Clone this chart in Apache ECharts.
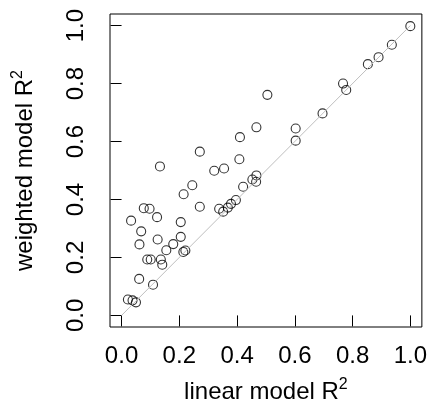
<!DOCTYPE html>
<html>
<head>
<meta charset="utf-8">
<script src="https://cdn.jsdelivr.net/npm/echarts@6/dist/echarts.min.js"></script>
<style>
  html, body { margin: 0; padding: 0; background: #fff; }
  #main { width: 430px; height: 412px; }
</style>
</head>
<body>
<div id="main"></div>
<script>
// R^2 of linear model (x) vs weighted model (y)
var linearR2 = [1.000, 0.936, 0.890, 0.853, 0.767, 0.778, 0.505, 0.696, 0.467, 0.603,
  0.410, 0.603, 0.271, 0.408, 0.133, 0.355, 0.321, 0.467, 0.453, 0.466,
  0.245, 0.421, 0.215, 0.396, 0.379, 0.368, 0.352, 0.338, 0.077, 0.097,
  0.271, 0.033, 0.123, 0.205, 0.068, 0.205, 0.125, 0.179, 0.062, 0.155,
  0.214, 0.221, 0.089, 0.101, 0.136, 0.141, 0.061, 0.109, 0.022, 0.038, 0.050];
var weightedR2 = [0.998, 0.934, 0.891, 0.867, 0.800, 0.778, 0.761, 0.697, 0.649, 0.645,
  0.615, 0.603, 0.565, 0.539, 0.514, 0.507, 0.499, 0.483, 0.469, 0.461,
  0.449, 0.444, 0.418, 0.398, 0.385, 0.372, 0.358, 0.368, 0.370, 0.368,
  0.375, 0.327, 0.339, 0.322, 0.290, 0.271, 0.262, 0.246, 0.245, 0.225,
  0.219, 0.224, 0.193, 0.193, 0.193, 0.175, 0.126, 0.106, 0.055, 0.052, 0.045];
var tickValues = [0, 0.2, 0.4, 0.6, 0.8, 1.0];
var refLine = [[0, 0], [1, 1]];

var points = [];
for (var i = 0; i < linearR2.length; i++) {
  points.push([linearR2[i], weightedR2[i]]);
}

var font = '"Liberation Sans", Arial, sans-serif';

var chart = echarts.init(document.getElementById('main'));

var option = {
  animation: false,
  textStyle: { fontFamily: font },
  grid: {
    left: 110, right: 7, top: 14, bottom: 85,
    show: true, borderColor: '#000', borderWidth: 1
  },
  xAxis: {
    type: 'value', min: -0.04, max: 1.04,
    name: '{a|linear model R}{b|2}',
    nameLocation: 'middle', nameGap: 50,
    nameTextStyle: {
      rich: {
        a: { fontSize: 24, fontFamily: font, color: '#000', lineHeight: 30 },
        b: { fontSize: 16, fontFamily: font, color: '#000', verticalAlign: 'top', lineHeight: 16 }
      }
    },
    axisLine: { show: false },
    splitLine: { show: false },
    axisTick: { show: true, length: 11, customValues: tickValues, lineStyle: { color: '#000' } },
    axisLabel: {
      customValues: tickValues, margin: 17, fontSize: 24, color: '#000', fontFamily: font,
      formatter: function (v) { return v.toFixed(1); }
    }
  },
  yAxis: {
    type: 'value', min: -0.04, max: 1.04,
    name: '{a|weighted model R}{b|2}',
    nameLocation: 'middle', nameGap: 70,
    nameTextStyle: {
      rich: {
        a: { fontSize: 24, fontFamily: font, color: '#000', lineHeight: 30 },
        b: { fontSize: 16, fontFamily: font, color: '#000', verticalAlign: 'top', lineHeight: 16 }
      }
    },
    axisLine: { show: false },
    splitLine: { show: false },
    axisTick: { show: true, length: 11, customValues: tickValues, lineStyle: { color: '#000' } },
    axisLabel: {
      customValues: tickValues, margin: 22, fontSize: 24, color: '#000', fontFamily: font,
      rotate: 90,
      formatter: function (v) { return v.toFixed(1); }
    }
  },
  series: [
    {
      type: 'line',
      data: refLine,
      symbol: 'none',
      lineStyle: { color: '#bebebe', width: 1 },
      silent: true
    },
    {
      type: 'scatter',
      data: points,
      symbol: 'circle',
      symbolSize: 9,
      itemStyle: { color: 'rgba(0,0,0,0)', borderColor: '#000', borderWidth: 1.1 }
    }
  ]
};

chart.setOption(option);
</script>
</body>
</html>
